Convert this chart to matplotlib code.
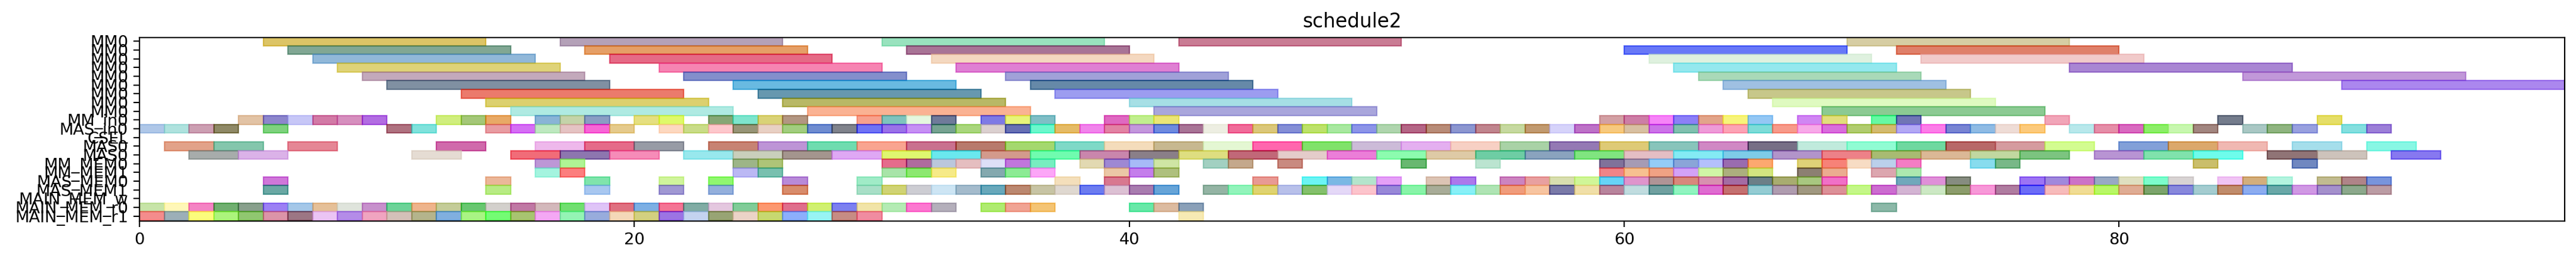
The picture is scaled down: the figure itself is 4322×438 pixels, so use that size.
import matplotlib
matplotlib.use("Agg")
import matplotlib.pyplot as plt
import matplotlib.colors as mcolors
import numpy as np

# ---------------- data ----------------
row_labels = ["MM0"] * 9 + ["MM_in0", "MAS_in0", "CSEL", "MAS0", "MAS0",
                            "MM_MEM0", "MM_MEM1", "MAS_MEM0", "MAS_MEM1",
                            "MAIN_MEM_w", "MAIN_MEM_r0", "MAIN_MEM_r1"]

mm0_duration = 9
mm0_starts = [
    [5, 17, 30, 42, 69],
    [6, 18, 31, 60, 71],
    [7, 19, 32, 61, 72],
    [8, 21, 33, 62, 78],
    [9, 22, 35, 63, 85],
    [10, 24, 36, 64, 89],
    [13, 25, 37, 65],
    [14, 26, 40, 66],
    [15, 27, 41, 68],
]

mm_in0_starts = [4, 5, 6, 7, 8, 9, 12, 13, 14, 16, 17, 18, 20, 21, 23, 24, 25, 26,
                 29, 30, 31, 32, 34, 35, 36, 39, 40, 41, 59, 60, 61, 62, 63, 64, 65,
                 67, 68, 70, 71, 77, 84, 88]
mas_in0_starts = [0, 1, 2, 3, 5, 10, 11, 14, 15, 16, 17, 18, 19] + list(range(21, 77)) + \
                 [78, 79, 80, 81, 82, 83, 85, 86, 87, 89, 90]
csel_starts = []
mas0_a_starts = [1, 3, 6, 12, 16, 18, 20, 23, 25, 27] + list(range(29, 78, 2)) + [80, 82, 84, 87, 90]
mas0_b_starts = [2, 4, 11, 15, 17, 19, 22, 24, 26] + list(range(28, 77, 2)) + [79, 81, 83, 86, 88, 91]
mm_mem0_starts = [16, 17, 24, 25, 30, 31, 32, 33, 34, 35, 36, 38, 39, 40, 41, 43, 44, 46,
                  51, 54, 59, 60, 61, 62, 63, 64, 65, 67, 68, 69, 70, 71, 74, 75, 83, 87]
mm_mem1_starts = [16, 17, 24, 25, 30, 31, 32, 34, 35, 36, 39, 40, 41, 59, 60, 61, 62, 63,
                  64, 65, 67, 68, 70, 71]
mas_mem0_starts = [5, 14, 18, 21, 23, 26, 29, 37, 39, 45, 47, 48, 49, 50, 52, 53] + \
                  list(range(55, 69)) + [71, 72, 73, 76, 77, 78, 79, 80, 81, 82, 84, 85, 86, 88, 89, 90]
mas_mem1_starts = [5, 14, 18, 21, 23, 26] + list(range(29, 42)) + list(range(43, 91))
main_mem_w_starts = []
main_mem_r0_starts = list(range(0, 33)) + [34, 35, 36, 40, 41, 42, 70]
main_mem_r1_starts = list(range(0, 30)) + [42]

unit_rows = [  # (row index, starts, duration)
    (9, mm_in0_starts, 1),
    (10, mas_in0_starts, 1),
    (11, csel_starts, 1),
    (12, mas0_a_starts, 2),
    (13, mas0_b_starts, 2),
    (14, mm_mem0_starts, 1),
    (15, mm_mem1_starts, 1),
    (16, mas_mem0_starts, 1),
    (17, mas_mem1_starts, 1),
    (18, main_mem_w_starts, 1),
    (19, main_mem_r0_starts, 1),
    (20, main_mem_r1_starts, 1),
]

# ---------------- styles (apparent face colours, as seen on white) ----------------
mm0_colors = [
    ["#dcc462", "#b4a1b8", "#99e3bf", "#c97c94", "#d6cda3"],
    ["#81a794", "#e59f67", "#a87496", "#6878f7", "#e0806a"],
    ["#91b8da", "#e56a86", "#f5d8c0", "#e0f1e0", "#f2cbcb"],
    ["#dfd378", "#f684b2", "#e080d3", "#94e9ef", "#aa86d4"],
    ["#c3a9bc", "#838fcc", "#a0a1d8", "#aad9b8", "#c198d9"],
    ["#8090a2", "#69bae1", "#6589a8", "#9fc0e3", "#ab87ee"],
    ["#eb7a6c", "#6798b0", "#9c9cf0", "#c8c78a"],
    ["#dcd16e", "#b9b966", "#a6dfe6", "#e0fbc0"],
    ["#afeae2", "#fbb393", "#aaa6dc", "#8cca93"],
]
row_colors = {
    9: ["#e3c3a5", "#8d86cc", "#c8c8f8", "#d27aa6", "#d78fbf", "#b36de3", "#d0ee7e",
        "#a4c878", "#e8a966", "#89b4d6", "#c5d4a9", "#8a9dc3", "#e6df80", "#e0f96a",
        "#86a775", "#7ee6ce", "#d9d277", "#b39682", "#f7a18d", "#7ec3be", "#e5f8df",
        "#6f7a9a", "#7e7ae6", "#e8f57a", "#7fbec6", "#df69c2", "#c1ef8e", "#ece676",
        "#d3a0a4", "#ce7ea6", "#f684f7", "#8c7ff7", "#e3a48a", "#f8f57a", "#94c8f4",
        "#d086f3", "#e2de7c", "#5ff9a3", "#7075b6", "#f1a5b8", "#747c8c", "#e6de68"],
    10: ["#b0c8e8", "#b0e2de", "#cc9fb3", "#8f8965", "#7ed27e", "#b07280", "#80e3dc",
         "#e89ca2", "#d56ff5", "#bfe9c0", "#e5c3c3", "#f862d6", "#e6cb8c",
         "#fdd8c0", "#c9dd88", "#fdc8cc", "#979577", "#e9d0c5", "#a2ce7f", "#6f8cd0",
         "#80838c", "#7073f4", "#9a72e8", "#c690f4", "#77a392", "#aad77d", "#dbd0d0",
         "#6770b4", "#6cf8cc", "#e6bb64", "#f284ec", "#e283a4", "#c397dd", "#6e8ae0",
         "#a87496", "#edefe3", "#f06c9a", "#dbc87a", "#848ed6", "#bde26a", "#a8e8a0",
         "#8c94e8", "#b0d5ae", "#b46386", "#b88c78", "#8c96d0", "#c0858e", "#c6d9a0",
         "#c19a70", "#d6d3fa", "#bd72c8", "#f8c97e", "#d8c0a2", "#cc74e8", "#80c0b0",
         "#ef9bd8", "#fca3b5", "#7edcd8", "#f89a8a", "#f8a9e8", "#d96ddd", "#b1cc6f",
         "#d4bc70", "#b3a8f5", "#fc7de8", "#7884d4", "#8fbbe4", "#efddd6", "#fccb7c",
         "#b8e9ec", "#e68ea8", "#d96ac0", "#8cee68", "#c8f7b0", "#a28680",
         "#a9c8c4", "#8fb480", "#98a0e0", "#84dfe0", "#9c7fd8"],
    11: [],
    12: ["#e3a289", "#84c6ac", "#e68695", "#d06aab", "#eeb8ec", "#e56b89", "#979ba5",
         "#c88373", "#bd94d6", "#6fdcb0", "#f9a490", "#c9718f", "#b87a6c", "#a4d86e",
         "#7fd9c8", "#f4dcbc", "#c8b890", "#e4f7d4", "#ff66ae", "#80e26a", "#ccbbd8",
         "#e4b0f0", "#f8d0c4", "#a9d2a6", "#9479b4", "#decb76", "#88c4bc", "#d088c4",
         "#776f86", "#c0eadc", "#90fcd4", "#6fd8a0", "#b86868", "#d59b9f", "#d4fc90",
         "#82a0d8", "#dba86c", "#f0b8b3", "#a5deec", "#88f8e4"],
    13: ["#a7adab", "#dbb3e8", "#e5ddd3", "#f26c78", "#8d76b0", "#f68cb8", "#98e9ed",
         "#c9cfbc", "#a4958e", "#e0a8f4", "#e0f870", "#6ae9ef", "#d49a8c", "#70fcb0",
         "#c986ac", "#8a7f88", "#dede80", "#c16878", "#e4cccb", "#ec7ed8", "#8cfcb0",
         "#decaa6", "#6ecda4", "#8aa3bf", "#80e680", "#e4bec4", "#84ecf4", "#7ecce8",
         "#b394cb", "#ed8188", "#a8bc72", "#dbb896", "#c2d8a0", "#7cc480", "#b894d4",
         "#80e2ac", "#6efcec", "#907476", "#cec3bc", "#8778f0"],
    14: ["#bd97d6", "#b0f494", "#9db588", "#aec478", "#e66c8c", "#b06c9e", "#bbc8dc",
         "#e6bec0", "#dedff8", "#c276dc", "#78efc0", "#e2dab2", "#9e88d4", "#a7baf8",
         "#cfe6a4", "#a2d0c2", "#c4a88c", "#c98a80", "#68b870", "#bce4d0", "#80729a",
         "#a69bb4", "#94ccf8", "#8aa5d8", "#b4c0fc", "#9a6cb0", "#fca870", "#e0d278",
         "#f88278", "#f8dcc4", "#bbd0ec", "#f47cc4", "#88dcee", "#78b888", "#cbbf6b",
         "#7088c0"],
    15: ["#a4f4e0", "#fc7e7e", "#bcb8f4", "#78c0b0", "#a8e4aa", "#8ce970", "#f6ea88",
         "#84aab0", "#8cec94", "#fca6f8", "#ecc8a6", "#c47eec", "#aec07e", "#f08488",
         "#f8c090", "#f0a284", "#d4a2f8", "#d0f6a6", "#acb07e", "#d4e680", "#8c7f72",
         "#ecac90", "#dca6b0", "#ace8b0"],
    16: ["#cf77da", "#ebb799", "#80e4ac", "#d0f49c", "#90f870", "#b88ad8", "#a0ecc8",
         "#f4e0bc", "#d87890", "#e89a94", "#6cf4f4", "#7ab8e4", "#b4e4cc", "#e4a0f8",
         "#dcc4b4", "#ac78ec", "#cc84c0", "#e8a0a0", "#d8deb0", "#d0f698", "#64d4f8",
         "#e094cc", "#b09496", "#d8887c", "#d890b0", "#a46ca4", "#6c8088", "#a8ac70",
         "#a8c880", "#f070c8", "#70a8bc", "#e090d8", "#868c80", "#9c74f4", "#a088dc",
         "#cc72c8", "#98aac4", "#e0e0c0", "#7cfccc", "#d8d4d4", "#f0c4f4", "#d4ae7c",
         "#b4f4e0", "#c2bc90", "#b08488", "#7894dc"],
    17: ["#6aa8a4", "#b8ec84", "#a8c8f0", "#a098d4", "#94b0dc", "#d88c6c",
         "#a8e0c8", "#d0d474", "#cdcdd4", "#cde6f4", "#a4bccc", "#68a8bc", "#bc8870",
         "#c8c4a4", "#e0d8d0", "#6c7cf0", "#dcc0d4", "#a87cb0", "#66a4d8",
         "#94b4a4", "#92f4bc", "#e0d470", "#b8c0ea", "#84c06c", "#e4d8f8", "#fcc4cc",
         "#9888d8", "#88f4a8", "#a8ac98", "#88f0f8", "#b0e4b4", "#f09c7c", "#f8c4a0",
         "#7a7aa8", "#f0e0a8", "#b8849c", "#c0dce0", "#70a0a0", "#90f4c0", "#e06cd0",
         "#c47070", "#94ccd4", "#b09cb0", "#a09880", "#dc9098", "#c4f888", "#cc6cd0",
         "#d4b4d4", "#cce8c4", "#8c9c6c", "#f898d8", "#b07ca0", "#6c6cf8", "#f8bcbc",
         "#f0dc94", "#b8f860", "#e0ac94", "#7ca46c", "#8888dc", "#a4ccd0", "#c08c6c",
         "#8cacf0", "#6aa8a8", "#d098e4", "#a490cc", "#8ca88c", "#bc9ca4"],
    18: [],
    19: ["#c8e4a8", "#fff8b8", "#f484c4", "#70b070", "#88a08c", "#9c80f4", "#a4c8e8",
         "#e6c098", "#e0e4dc", "#c890cc", "#6cd498", "#eeb48c", "#c4cc98", "#68c870",
         "#d4d0cc", "#c078a4", "#d4b8bc", "#70e070", "#e0c4f8", "#e07080", "#7cb0e4",
         "#f47494", "#80aca4", "#e4c8e0", "#80cc98", "#fc9870", "#e06e8c", "#d0f070",
         "#7c80f0", "#f2e4a8", "#b4ecb4", "#fc78d0", "#b4b0bc", "#b0ec70", "#f0a494",
         "#f4c474", "#68e8a8", "#dcbca0", "#8aa0b8", "#8cb8a8"],
    20: ["#f48c8c", "#9cb0b8", "#fcfc7c", "#acf47c", "#90c870", "#dc94a8", "#9c7684",
         "#ecc4f4", "#b48ce8", "#f0a4c0", "#d4c0b8", "#b4b48c", "#80b0e0", "#aaf484",
         "#74fc74", "#a8c470", "#f4a8f4", "#94f4b4", "#98acdc", "#f4d8b8", "#d4d080",
         "#9c74e4", "#c4d4f0", "#98a474", "#ecd4c8", "#c8d870", "#8cb0fc", "#98f4f4",
         "#c88c84", "#f08ca0", "#f8eab4"],
}

ALPHA = 0.6
LW = 0.8
DPI = 196


def base_color(hex_seen):
    seen = np.array(mcolors.to_rgb(hex_seen))
    c = (seen - (1 - ALPHA)) / ALPHA
    return tuple(np.clip(c, 0, 1))


fig = plt.figure(figsize=(4322 / DPI, 438 / DPI), dpi=DPI)
ax = fig.add_axes([234 / 4322, 1 - 370.7 / 438, (4302.7 - 234) / 4322, (370.7 - 62.7) / 438])

for r, starts in enumerate(mm0_starts):
    for s, col in zip(starts, mm0_colors[r]):
        c = base_color(col)
        ax.barh(r, mm0_duration, left=s, height=1.0, color=c, alpha=ALPHA,
                edgecolor=c, linewidth=LW)

for r, starts, dur in unit_rows:
    for s, col in zip(starts, row_colors[r]):
        c = base_color(col)
        ax.barh(r, dur, left=s, height=1.0, color=c, alpha=ALPHA,
                edgecolor=c, linewidth=LW)

ax.set_yticks(range(len(row_labels)))
ax.set_yticklabels(row_labels)
ax.set_ylim(20.545, -0.45)
ax.set_xlim(0, 98)
ax.set_xticks([0, 20, 40, 60, 80])
ax.set_title("schedule2")

fig.savefig("out.png", dpi=DPI)
